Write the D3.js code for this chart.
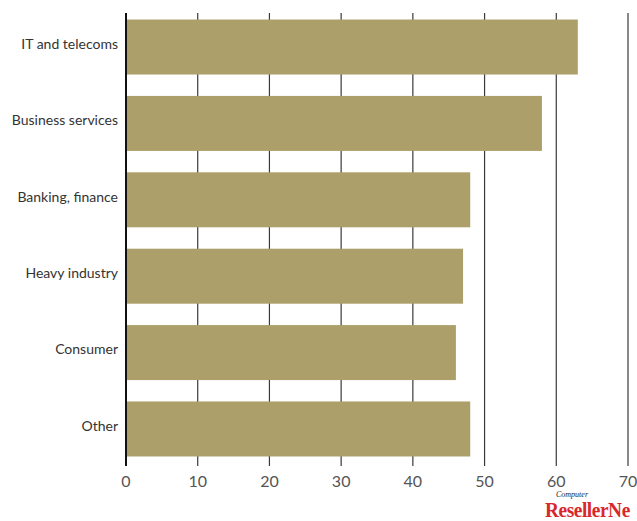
<!DOCTYPE html>
<html>
<head>
<meta charset="utf-8">
<script src="https://cdn.jsdelivr.net/npm/d3@7"></script>
<style>
  body { margin: 0; background: #fff; }
  svg { display: block; }
</style>
</head>
<body>
<script>
var width  = 637,
    height = 521;

var categories = ["IT and telecoms", "Business services", "Banking, finance", "Heavy industry", "Consumer", "Other"];
var values     = [63, 58, 48, 47, 46, 48];
var tickValues = [0, 10, 20, 30, 40, 50, 60, 70];

var plotLeft = 126, plotRight = 628, plotTop = 18, plotBottom = 458;

var svg = d3.select("body").append("svg")
    .attr("width", width)
    .attr("height", height);

var x = d3.scaleLinear().domain([0, 70]).range([plotLeft, plotRight]);
var y = d3.scaleBand().domain(categories).range([plotTop, plotBottom]).paddingInner(0.28).paddingOuter(0.02);

// gridlines
svg.selectAll("line.grid")
  .data(tickValues.slice(1))
  .enter().append("line")
  .attr("class", "grid")
  .attr("x1", function(d) { return x(d); })
  .attr("x2", function(d) { return x(d); })
  .attr("y1", 13)
  .attr("y2", 466)
  .attr("stroke", "#3a3a3a")
  .attr("stroke-width", 1.2);

// bars
svg.selectAll("rect.bar")
  .data(values)
  .enter().append("rect")
  .attr("class", "bar")
  .attr("x", x(0))
  .attr("y", function(d, i) { return y(categories[i]); })
  .attr("width", function(d) { return x(d) - x(0); })
  .attr("height", y.bandwidth())
  .attr("fill", "#ac9f6a");

// left axis line
svg.append("line")
  .attr("x1", x(0)).attr("x2", x(0))
  .attr("y1", 13).attr("y2", 466)
  .attr("stroke", "#111")
  .attr("stroke-width", 2);

// category labels
svg.selectAll("text.cat")
  .data(categories)
  .enter().append("text")
  .attr("class", "cat")
  .attr("x", 118)
  .attr("y", function(d) { return y(d) + y.bandwidth() / 2 - 3; })
  .attr("dy", "0.35em")
  .attr("text-anchor", "end")
  .attr("font-family", "Lato, 'Open Sans', sans-serif")
  .attr("font-size", 14)
  .attr("fill", "#333")
  .text(function(d) { return d; });

// tick labels
svg.selectAll("text.tick")
  .data(tickValues)
  .enter().append("text")
  .attr("class", "tick")
  .attr("x", function(d) { return x(d); })
  .attr("y", 487)
  .attr("text-anchor", "middle")
  .attr("font-family", "Lato, 'Open Sans', sans-serif")
  .attr("font-size", 16)
  .attr("fill", "#555")
  .text(function(d) { return d; });

// logo
svg.append("text")
  .attr("x", 556).attr("y", 497)
  .attr("font-family", "'Liberation Serif', serif")
  .attr("font-style", "italic")
  .attr("font-size", 8)
  .attr("fill", "#222")
  .text("Computer");

svg.append("text")
  .attr("transform", "translate(545,517) scale(0.88,1)")
  .attr("font-family", "'Liberation Serif', serif")
  .attr("font-weight", "bold")
  .attr("font-size", 22)
  .attr("letter-spacing", -0.5)
  .attr("fill", "#d8282c")
  .text("ResellerNe");
</script>
</body>
</html>
